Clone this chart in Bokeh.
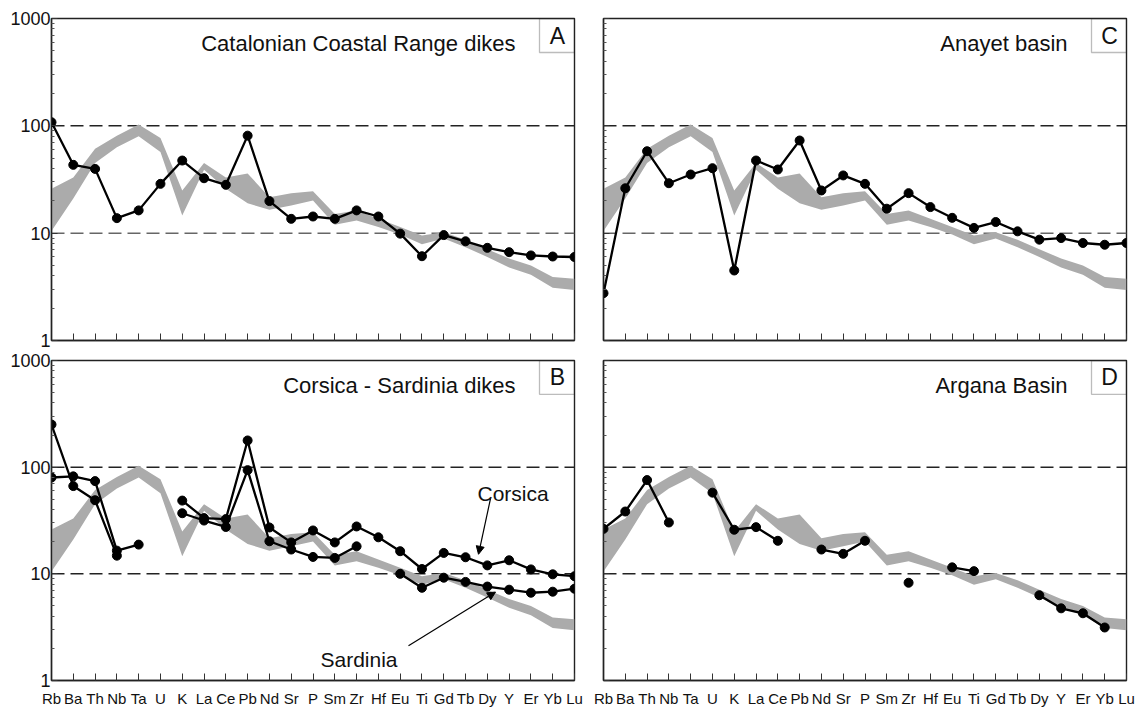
import numpy as np
from bokeh.plotting import figure
from bokeh.layouts import column, row
from bokeh.models import FixedTicker, Span, Label, BoxAnnotation, Arrow, NormalHead
from bokeh.embed import file_html
from bokeh.resources import INLINE

nan = float("nan")

# ---------------- data ----------------
elements = ["Rb", "Ba", "Th", "Nb", "Ta", "U", "K", "La", "Ce", "Pb", "Nd", "Sr", "P",
            "Sm", "Zr", "Hf", "Eu", "Ti", "Gd", "Tb", "Dy", "Y", "Er", "Yb", "Lu"]

band_low = [10.5, 21.0, 45.0, 63.0, 80.0, 57.0, 14.6, 39.0, 26.0, 19.0, 16.5, 18.1, 20.1,
            12.0, 13.1, 11.4, 9.7, 7.9, 8.9, 7.4, 6.0, 4.8, 4.1, 3.1, 2.96]
band_high = [26.0, 33.0, 61.0, 81.0, 103.0, 77.0, 25.0, 45.0, 33.0, 36.0, 21.6, 23.6, 24.6,
             15.1, 16.3, 13.6, 11.4, 9.5, 10.2, 8.7, 7.1, 5.8, 5.0, 3.9, 3.76]

catalonia = [108, 43.3, 39.7, 13.8, 16.3, 28.8, 47.5, 32.5, 28.2, 81, 19.9, 13.6, 14.3,
             13.6, 16.3, 14.3, 9.9, 6.1, 9.6, 8.4, 7.3, 6.65, 6.2, 6.06, 6.0]

anayet = [2.76, 26.2, 58, 29.2, 35.2, 40.3, 4.49, 47.5, 39.2, 73, 25.0, 34.5, 28.8,
          16.9, 23.6, 17.5, 13.9, 11.2, 12.7, 10.4, 8.7, 9.0, 8.1, 7.8, 8.1]

corsica = [80, 82, 74, 16.5, 18.8, nan, 48.6, 33.3, 32.6, 178, 27.2, 19.7, 25.5,
           19.7, 27.8, 22.0, 16.3, 11.1, 15.7, 14.3, 12.0, 13.4, 11.0, 9.9, 9.5]

sardinia = [251, 66.5, 49, 14.8, nan, nan, 37.0, 31.6, 27.5, 93.8, 20.2, 16.9, 14.4,
            14.1, 18.1, nan, 10.0, 7.4, 9.2, 8.4, 7.6, 7.1, 6.65, 6.8, 7.25]

argana = [26.4, 38.4, 75.7, 30.3, nan, 57.7, 25.9, 27.4, 20.4, nan, 16.9, 15.4, 20.4,
          nan, 8.25, nan, 11.5, 10.6, nan, nan, 6.3, 4.75, 4.27, 3.14, nan]

y_major = [1, 10, 100, 1000]
y_minor = [2, 3, 4, 5, 6, 7, 8, 9, 20, 30, 40, 50, 60, 70, 80, 90,
           200, 300, 400, 500, 600, 700, 800, 900]

# ---------------- layout helpers ----------------
FONT = "Liberation Sans"
FW, FH = 523, 322
NX = len(elements) - 1
xs = np.arange(len(elements), dtype=float)


def xv(dx):
    return dx / FW * NX


def yv(dy):
    return 10 ** (3 - dy / FH * 3)


def make_panel(width, height, bl, br, bt, bb, ylabels, xlabels, title, letter,
               ten_color="#222222"):
    p = figure(width=width, height=height, x_range=(0, NX), y_range=(1, 1000),
               y_axis_type="log", output_backend="svg", toolbar_location=None,
               min_border_left=bl, min_border_right=br, min_border_top=bt,
               min_border_bottom=bb)
    p.grid.grid_line_color = None
    p.outline_line_color = "#222222"
    p.outline_line_width = 1.4
    p.background_fill_color = "white"
    p.border_fill_color = "white"

    xa = p.xaxis[0]
    xa.ticker = FixedTicker(ticks=list(range(len(elements))), minor_ticks=[])
    xa.major_tick_in = 7
    xa.major_tick_out = 0
    xa.minor_tick_line_color = None
    xa.major_tick_line_color = "#333333"
    xa.axis_line_color = "#222222"
    xa.axis_line_width = 1.4
    xa.major_label_standoff = 9
    xa.major_label_text_font = FONT
    xa.major_label_text_color = "#111111"
    if xlabels:
        xa.major_label_overrides = {i: e for i, e in enumerate(elements)}
        xa.major_label_text_font_size = "15px"
    else:
        xa.major_label_overrides = {i: "" for i in range(len(elements))}
        xa.major_label_text_font_size = "0px"

    ya = p.yaxis[0]
    ya.ticker = FixedTicker(ticks=y_major, minor_ticks=y_minor)
    ya.major_tick_in = 6
    ya.major_tick_out = 0
    ya.minor_tick_in = 3
    ya.minor_tick_out = 0
    ya.major_tick_line_color = "#333333"
    ya.minor_tick_line_color = "#555555"
    ya.axis_line_color = "#222222"
    ya.axis_line_width = 1.4
    ya.major_label_standoff = 1
    ya.major_label_text_font = FONT
    ya.major_label_text_color = "#111111"
    if ylabels:
        ya.major_label_overrides = {v: str(v) for v in y_major}
        ya.major_label_text_font_size = "18px"
    else:
        ya.major_label_overrides = {v: "" for v in y_major}
        ya.major_label_text_font_size = "0px"

    p.add_layout(Span(location=100, dimension="width", line_color="#222222",
                      line_width=1.5, line_dash="13 6", level="underlay"))
    p.add_layout(Span(location=10, dimension="width", line_color=ten_color,
                      line_width=1.5, line_dash="13 6", level="underlay"))

    p.varea(x=xs, y1=np.array(band_low), y2=np.array(band_high),
            fill_color="#ababab", fill_alpha=1.0)

    p.add_layout(Label(x=xv(464), y=yv(25), text=title, text_font=FONT,
                       text_font_size="22px", text_align="right",
                       text_baseline="alphabetic", text_color="#111111"))
    p.add_layout(BoxAnnotation(left=xv(488), right=NX, bottom=yv(34), top=1000,
                               fill_color=None, fill_alpha=0, line_color="#222222",
                               line_width=1.3))
    p.add_layout(Label(x=xv(506), y=yv(17), text=letter, text_font=FONT,
                       text_font_size="23px", text_align="center",
                       text_baseline="middle", text_color="#111111"))
    return p


def add_series(p, vals):
    v = np.array(vals, dtype=float)
    p.line(xs, v, line_color="black", line_width=2.3)
    p.scatter(xs, v, size=9, fill_color="black", line_color="black")


pA = make_panel(588, 350, 51, 14, 18, 10, True, False,
                "Catalonian Coastal Range dikes", "A", ten_color="#666666")
add_series(pA, catalonia)

pC = make_panel(552, 350, 15, 14, 18, 10, False, False, "Anayet basin", "C",
                ten_color="#666666")
add_series(pC, anayet)

pB = make_panel(588, 359, 51, 14, 10, 27, True, True,
                "Corsica - Sardinia dikes", "B")
add_series(pB, corsica)
add_series(pB, sardinia)

pB.add_layout(Label(x=xv(426), y=yv(134), text="Corsica", text_font=FONT,
                    text_font_size="21px", text_align="left",
                    text_baseline="alphabetic", text_color="#111111"))
pB.add_layout(Arrow(x_start=xv(439), y_start=yv(139), x_end=xv(427), y_end=yv(195),
                    line_color="black", line_width=1.2,
                    end=NormalHead(size=8, fill_color="black", line_color="black")))
pB.add_layout(Label(x=xv(269), y=yv(301), text="Sardinia", text_font=FONT,
                    text_font_size="21px", text_align="left",
                    text_baseline="alphabetic", text_color="#111111"))
pB.add_layout(Arrow(x_start=xv(357), y_start=yv(287), x_end=xv(444), y_end=yv(233),
                    line_color="black", line_width=1.2,
                    end=NormalHead(size=8, fill_color="black", line_color="black")))

pD = make_panel(552, 359, 15, 14, 10, 27, False, True, "Argana Basin", "D")
add_series(pD, argana)

layout = column(row(pA, pC), row(pB, pD))

open("out.html", "w").write(file_html(layout, INLINE))
